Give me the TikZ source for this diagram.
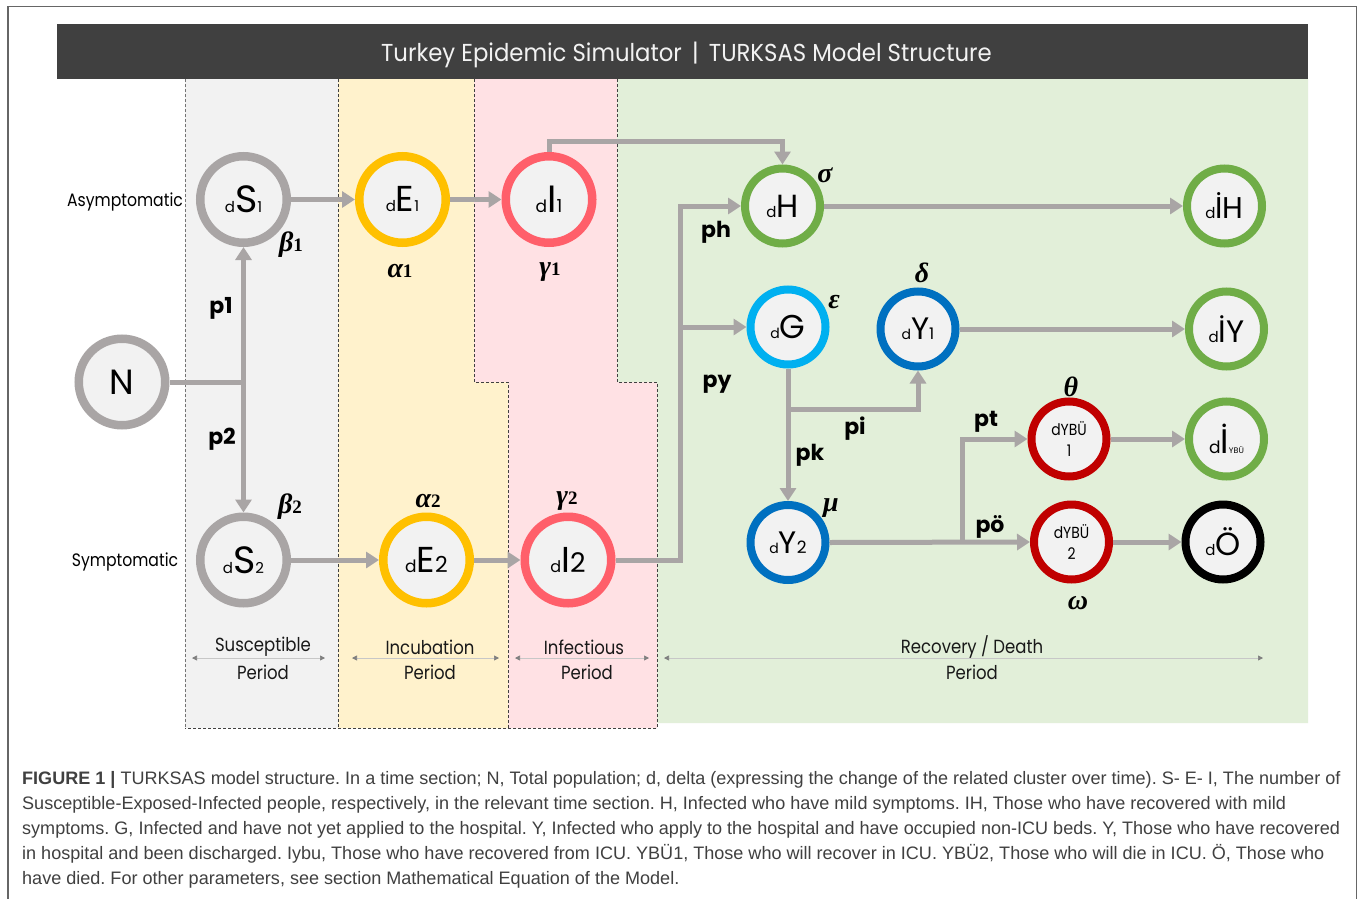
\documentclass[tikz,border=0pt]{standalone}
\usepackage{fontspec}
\usetikzlibrary{arrows.meta,calc}
\setmainfont{Poppins}
\newfontfamily\capfont{Liberation Sans}
\newfontfamily\gkfont{Liberation Serif}
\newfontfamily\narrowfont{Poppins}[FakeStretch=0.87]
\newfontfamily\titlefont{Poppins}[FakeStretch=0.93]
\definecolor{cgray}{HTML}{A9A5A5}
\definecolor{cyel}{HTML}{FFC000}
\definecolor{cred}{HTML}{FF5F6A}
\definecolor{cgreen}{HTML}{70AD47}
\definecolor{ccyan}{HTML}{00B0F0}
\definecolor{cblue}{HTML}{0070C0}
\definecolor{cdred}{HTML}{C00000}
\definecolor{bgray}{HTML}{F2F2F2}
\definecolor{byel}{HTML}{FFF2CC}
\definecolor{bpink}{HTML}{FFE1E4}
\definecolor{bgreen}{HTML}{E2EFD9}
\definecolor{hdr}{HTML}{404040}
\definecolor{captxt}{HTML}{404040}
\newcommand{\fs}[1]{\fontsize{#1}{#1}\selectfont}
% small d, large letter, index: sizes of d, letter, index
\newcommand{\lab}[5]{\raisebox{-1.5pt}{{\fs{#3}d}{\fs{#4}#1}{\fs{#5}#2}}}
\newcommand{\gk}[1]{{\gkfont\bfseries\itshape #1}}
\newcommand{\gi}[2]{\gk{#1}{\gkfont\bfseries\fs{19}#2}}
\tikzset{
  big/.style={circle,draw,fill=bgray,line width=8.5pt,minimum size=86.5pt,inner sep=0pt,text=black},
  small/.style={circle,draw,fill=bgray,line width=8pt,minimum size=75pt,inner sep=0pt,text=black},
  flow/.style={draw=cgray,line width=5pt,-{Triangle[length=13pt,width=16pt]}},
  plain/.style={draw=cgray,line width=5pt},
  span/.style={draw=black!22,line width=0.7pt,{Triangle[length=5pt,width=5pt,fill=black!50,color=black!50]}-{Triangle[length=5pt,width=5pt,fill=black!50,color=black!50]}},
  sep/.style={draw=black!75,line width=0.8pt,dash pattern=on 3pt off 2pt},
  param/.style={font=\bfseries\fs{22},text=black,inner sep=0pt},
  greek/.style={font=\fs{28},text=black,inner sep=0pt},
  period/.style={font=\narrowfont\fs{19},text=black!90,inner sep=0pt},
  capline/.style={anchor=base west,font=\capfont\fs{18.05},text=captxt,inner sep=0pt}
}
\begin{document}
\frenchspacing
\begin{tikzpicture}[x=1pt,y=-1pt]
\useasboundingbox (0,0) rectangle (1357,899);
\fill[white] (0,0) rectangle (1357,899);
\draw[black!60,line width=1.2pt] (8,899) -- (8,6.5) -- (1356.6,6.5) -- (1356.6,899);
% bands
\fill[bgray] (185,79) rectangle (338,728);
\fill[byel] (338,79) -- (474,79) -- (474,382) -- (508,382) -- (508,728) -- (338,728) -- cycle;
\fill[bpink] (474,79) -- (617,79) -- (617,382) -- (657,382) -- (657,728) -- (508,728) -- (508,382) -- (474,382) -- cycle;
\fill[bgreen] (617,79) -- (1308,79) -- (1308,723) -- (657,723) -- (657,382) -- (617,382) -- cycle;
\draw[sep,draw=black!55] (185,79) -- (185,728);
\draw[sep] (338,79) -- (338,728);
\draw[sep] (474,79) -- (474,382) -- (508,382) -- (508,728);
\draw[sep] (617,79) -- (617,382) -- (657,382) -- (657,728) -- (185,728);
% header
\fill[hdr] (57,24) rectangle (1308,79);
\node[text=white!95!black,font=\titlefont\fs{24.5},inner sep=0pt] (title) at (686.5,55) {Turkey Epidemic Simulator\,\ |\ \,TURKSAS Model Structure};
% compartments
\node[big,draw=cgray] (N) at (122,382) {\fs{35}N};
\node[big,draw=cgray] (S1) at (243.5,199.5) {\lab{S}{1}{15}{38}{15}};
\node[big,draw=cgray] (S2) at (243.5,560) {\lab{S}{2}{15}{38}{15}};
\node[big,draw=cyel] (E1) at (402.5,199.5) {\lab{E}{1}{15}{36}{15}};
\node[big,draw=cyel] (E2) at (426.5,560) {\lab{E}{2}{17}{36}{22}};
\node[big,draw=cred] (I1) at (549,199.5) {\lab{I}{1}{17}{38}{18}};
\node[big,draw=cred] (I2) at (568,560) {\lab{I}{2}{16}{36}{27}};
\node[small,draw=cgreen] (H) at (782.5,206) {\lab{H}{}{15}{32}{15}};
\node[small,draw=cgreen] (IH) at (1224.5,206) {\lab{İH}{}{15}{30}{15}};
\node[small,draw=ccyan] (G) at (788,327) {\lab{G}{}{14}{33}{15}};
\node[small,draw=cblue] (Y1) at (918,329) {\lab{Y}{1}{14}{31}{16}};
\node[small,draw=cgreen] (IY) at (1226.5,329) {\lab{İY}{}{15}{31}{15}};
\node[small,draw=cdred,align=center,font=\narrowfont\fs{16}] (U1) at (1069,439) {dYBÜ\\[5pt]1};
\node[small,draw=cgreen] (IU) at (1226.5,439) {{\fs{17}d}{\fs{34}İ}{\fs{8}YBÜ}};
\node[small,draw=cblue] (Y2) at (788,542.5) {\lab{Y}{2}{14}{31}{17}};
\node[small,draw=cdred,align=center,font=\narrowfont\fs{16}] (U2) at (1071.5,542) {dYBÜ\\[5pt]2};
\node[small,draw=black] (O) at (1223,542) {\lab{Ö}{}{15}{32}{15}};
% junctions
\coordinate (jN) at (243.5,382);
\coordinate (tr) at (680,327);
\coordinate (jG) at (788,409.5);
\coordinate (jY) at (962.5,542.5);
% connectors
\draw[plain] (N.east) -- (jN);
\draw[flow] (jN) -- (S1.south);
\draw[flow] (jN) -- (S2.north);
\draw[flow] (S1.east) -- (E1.west);
\draw[flow] (E1.east) -- (I1.west);
\draw[flow] (S2.east) -- (E2.west);
\draw[flow] (E2.east) -- (I2.west);
\draw[flow] (I2.east) -- (tr |- I2) |- (H.west);
\draw[flow] (tr) -- (G.west);
\draw[flow] (I1.north) -- ++(0,-11) -| (H.north);
\draw[flow] (H.east) -- (IH.west);
\draw[flow] (Y1.east) -- (IY.west);
\draw[flow] (G.south) -- (Y2.north);
\draw[flow] (jG) -| (Y1.south);
\draw[flow] (Y2.east) -- (U2.west);
\draw[flow] (jY) |- (U1.west);
\draw[flow] (U1.east) -- (IU.west);
\draw[flow] (U2.east) -- (O.west);
% branch labels
\node[param] (lp1) at (221,308.5) {p1};
\node[param] (lp2) at (222,439.5) {p2};
\node[param] (lph) at (716,232.5) {ph};
\node[param] (lpy) at (717,384.5) {py};
\node[param] (lpi) at (855,429) {pi};
\node[param] (lpk) at (810,455) {pk};
\node[param] (lpt) at (986,422) {pt};
\node[param] (lpo) at (990,527) {pö};
% rates
\node[greek] (b1) at (291,245) {\gi{β}{1}};
\node[greek] (a1) at (400,271) {\gi{α}{1}};
\node[greek] (c1) at (550,272) {\gi{γ}{1}};
\node[greek] (b2) at (290,507) {\gi{β}{2}};
\node[greek] (a2) at (428,501) {\gi{α}{2}};
\node[greek] (c2) at (567,501) {\gi{γ}{2}};
\node[greek] (rs) at (825,175) {\gk{σ}};
\node[greek] (re) at (834,302) {\gk{ε}};
\node[greek] (rd) at (922,273) {\gk{δ}};
\node[greek] (rt) at (1071,387) {\gk{θ}};
\node[greek] (rm) at (831,508) {\gk{μ}};
\node[greek] (rw) at (1078,603) {\gk{ω}};
% side labels
\node[font=\narrowfont\fs{18},inner sep=0pt] (asy) at (125,202) {Asymptomatic};
\node[font=\narrowfont\fs{18},inner sep=0pt] (sym) at (125,562) {Symptomatic};
% periods
\node[period] (t1) at (263,647) {Susceptible};
\node[period] (t2) at (263,672) {Period};
\node[period] (t3) at (430,647) {Incubation};
\node[period] (t4) at (430,672) {Period};
\node[period] (t5) at (584,647) {Infectious};
\node[period] (t6) at (587,672) {Period};
\node[period] (t7) at (972,647) {Recovery / Death};
\node[period] (t8) at (972,672) {Period};
\coordinate (s1a) at (192,658); \coordinate (s1b) at (325,658);
\coordinate (s2a) at (352,658); \coordinate (s2b) at (499,658);
\coordinate (s3a) at (515,658); \coordinate (s3b) at (649,658);
\coordinate (s4a) at (664,658); \coordinate (s4b) at (1263,658);
\draw[span] (s1a) -- (s1b);
\draw[span] (s2a) -- (s2b);
\draw[span] (s3a) -- (s3b);
\draw[span] (s4a) -- (s4b);
% caption
\node[capline] (c1l) at (22,784) {\textbf{FIGURE 1 |} TURKSAS model structure. In a time section; N, Total population; d, delta (expressing the change of the related cluster over time). S- E- I, The number of};
\node[capline] (c2l) at (22,809) {Susceptible-Exposed-Infected people, respectively, in the relevant time section. H, Infected who have mild symptoms. IH, Those who have recovered with mild};
\node[capline] (c3l) at (22,834) {symptoms. G, Infected and have not yet applied to the hospital. Y, Infected who apply to the hospital and have occupied non-ICU beds. Y, Those who have recovered};
\node[capline] (c4l) at (22,859) {in hospital and been discharged. Iybu, Those who have recovered from ICU. YBÜ1, Those who will recover in ICU. YBÜ2, Those who will die in ICU. Ö, Those who};
\node[capline] (c5l) at (22,884) {have died. For other parameters, see section Mathematical Equation of the Model.};
\end{tikzpicture}
\end{document}
